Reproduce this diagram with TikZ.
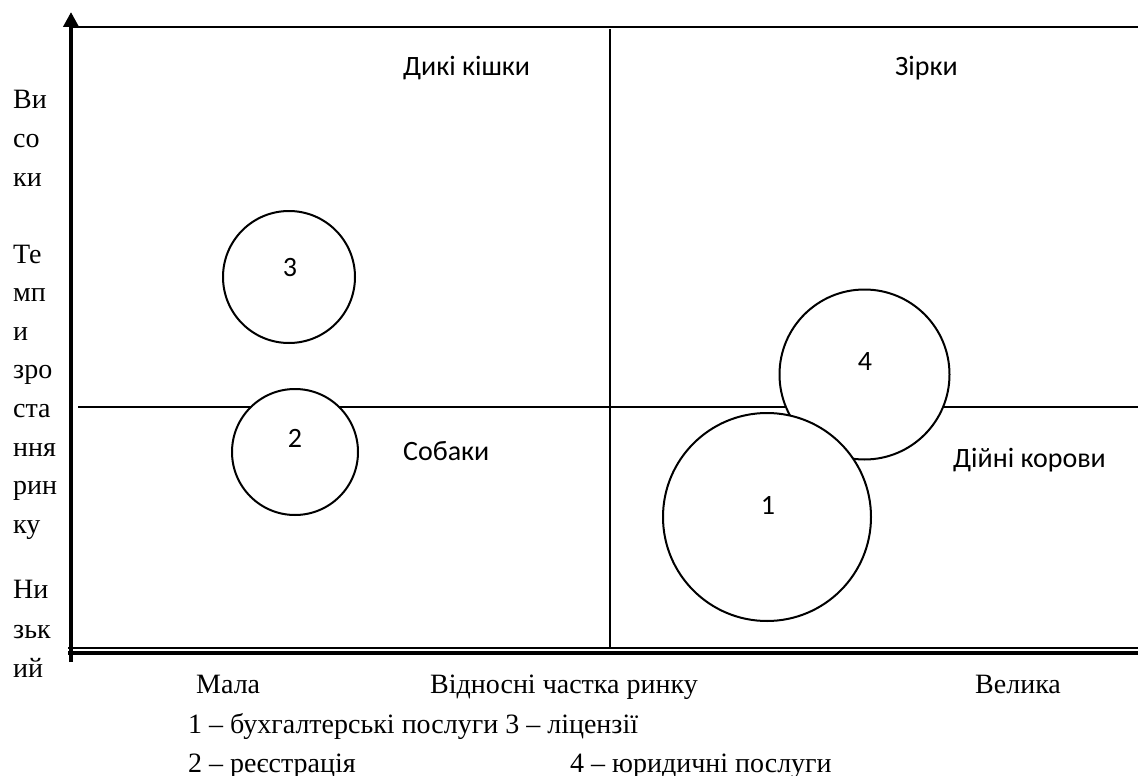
\documentclass[tikz,border=0pt]{standalone}
\usepackage{fontspec}
\setmainfont{Liberation Serif}
\newfontfamily\calfont{Carlito}
\usetikzlibrary{arrows.meta}
\begin{document}
\begin{tikzpicture}[x=1pt,y=-1pt,
  serif/.style={anchor=base west,inner sep=0pt,font=\fontsize{28}{34}\selectfont},
  sans/.style={anchor=base west,inner sep=0pt,font=\calfont\fontsize{28}{34}\selectfont},
  num/.style={inner sep=0pt,font=\calfont\fontsize{28}{34}\selectfont},
  bubble/.style={circle,draw,fill=white,line width=2pt,inner sep=0pt},
  thinline/.style={line width=1.3pt},
]
\useasboundingbox[fill=white] (0,0) rectangle (1138,776);
% axes
\coordinate (ybot) at (71,662);
\coordinate (ytop) at (71,12);
\coordinate (tl) at (71,27);
\coordinate (tr) at (1138,27);
\coordinate (bl) at (68,653);
\coordinate (br) at (1138,653);
\coordinate (bl2) at (68,648);
\coordinate (br2) at (1138,648);
\coordinate (vt) at (610,29);
\coordinate (vb) at (610,648);
\coordinate (hl) at (78,407);
\coordinate (hr) at (1138,407);
\draw[line width=2.5pt] (tl) -- (tr);
\draw[thinline] (vt) -- (vb);
\draw[thinline] (hl) -- (hr);
\draw[line width=1.5pt] (bl2) -- (br2);
\draw[line width=4pt] (bl) -- (br);
\draw[line width=4.5pt,-{Triangle[width=15pt,length=15pt]}] (ybot) -- (ytop);
% bubbles
\node[bubble,minimum size=132pt] (c3) at (289,277) {};
\node[bubble,minimum size=126pt] (c2) at (295,452) {};
\node[bubble,minimum size=170pt] (c4) at (864.5,374.5) {};
\node[bubble,minimum size=208pt] (c1) at (767,517) {};
\node[num] (n3) at (290,268) {3};
\node[num] (n2) at (295,438) {2};
\node[num] (n4) at (865,362) {4};
\node[num] (n1) at (768,505) {1};
% quadrant labels
\node[sans] (q1) at (403,76) {Дикі кішки};
\node[sans] (q2) at (895,76) {Зірки};
\node[sans] (q3) at (403,460) {Собаки};
\node[sans] (q4) at (953,467) {Дійні корови};
% y axis text
\node[serif] (y1) at (13,108) {Ви};
\node[serif] (y2) at (13,147) {со};
\node[serif] (y3) at (13,186) {ки};
\node[serif] (y4) at (13,263) {Те};
\node[serif] (y5) at (13,301.6) {мп};
\node[serif] (y6) at (13,340.2) {и};
\node[serif] (y7) at (13,378.8) {зро};
\node[serif] (y8) at (13,417.4) {ста};
\node[serif] (y9) at (13,456) {ння};
\node[serif] (y10) at (13,494.6) {рин};
\node[serif] (y11) at (13,533.2) {ку};
\node[serif] (y12) at (13,598) {Ни};
\node[serif] (y13) at (13,638) {зьк};
\node[serif] (y14) at (13,677) {ий};
% x axis text
\node[serif] (xm) at (196,693) {Мала};
\node[serif] (xt) at (430,693) {Відносні частка ринку};
\node[serif] (xv) at (975,693) {Велика};
\node[serif] (l1) at (188,733) {1 – бухгалтерські послуги 3 – ліцензії};
\node[serif] (l2) at (188,772) {2 – реєстрація};
\node[serif] (l4) at (570,772) {4 – юридичні послуги};
\end{tikzpicture}
\end{document}
